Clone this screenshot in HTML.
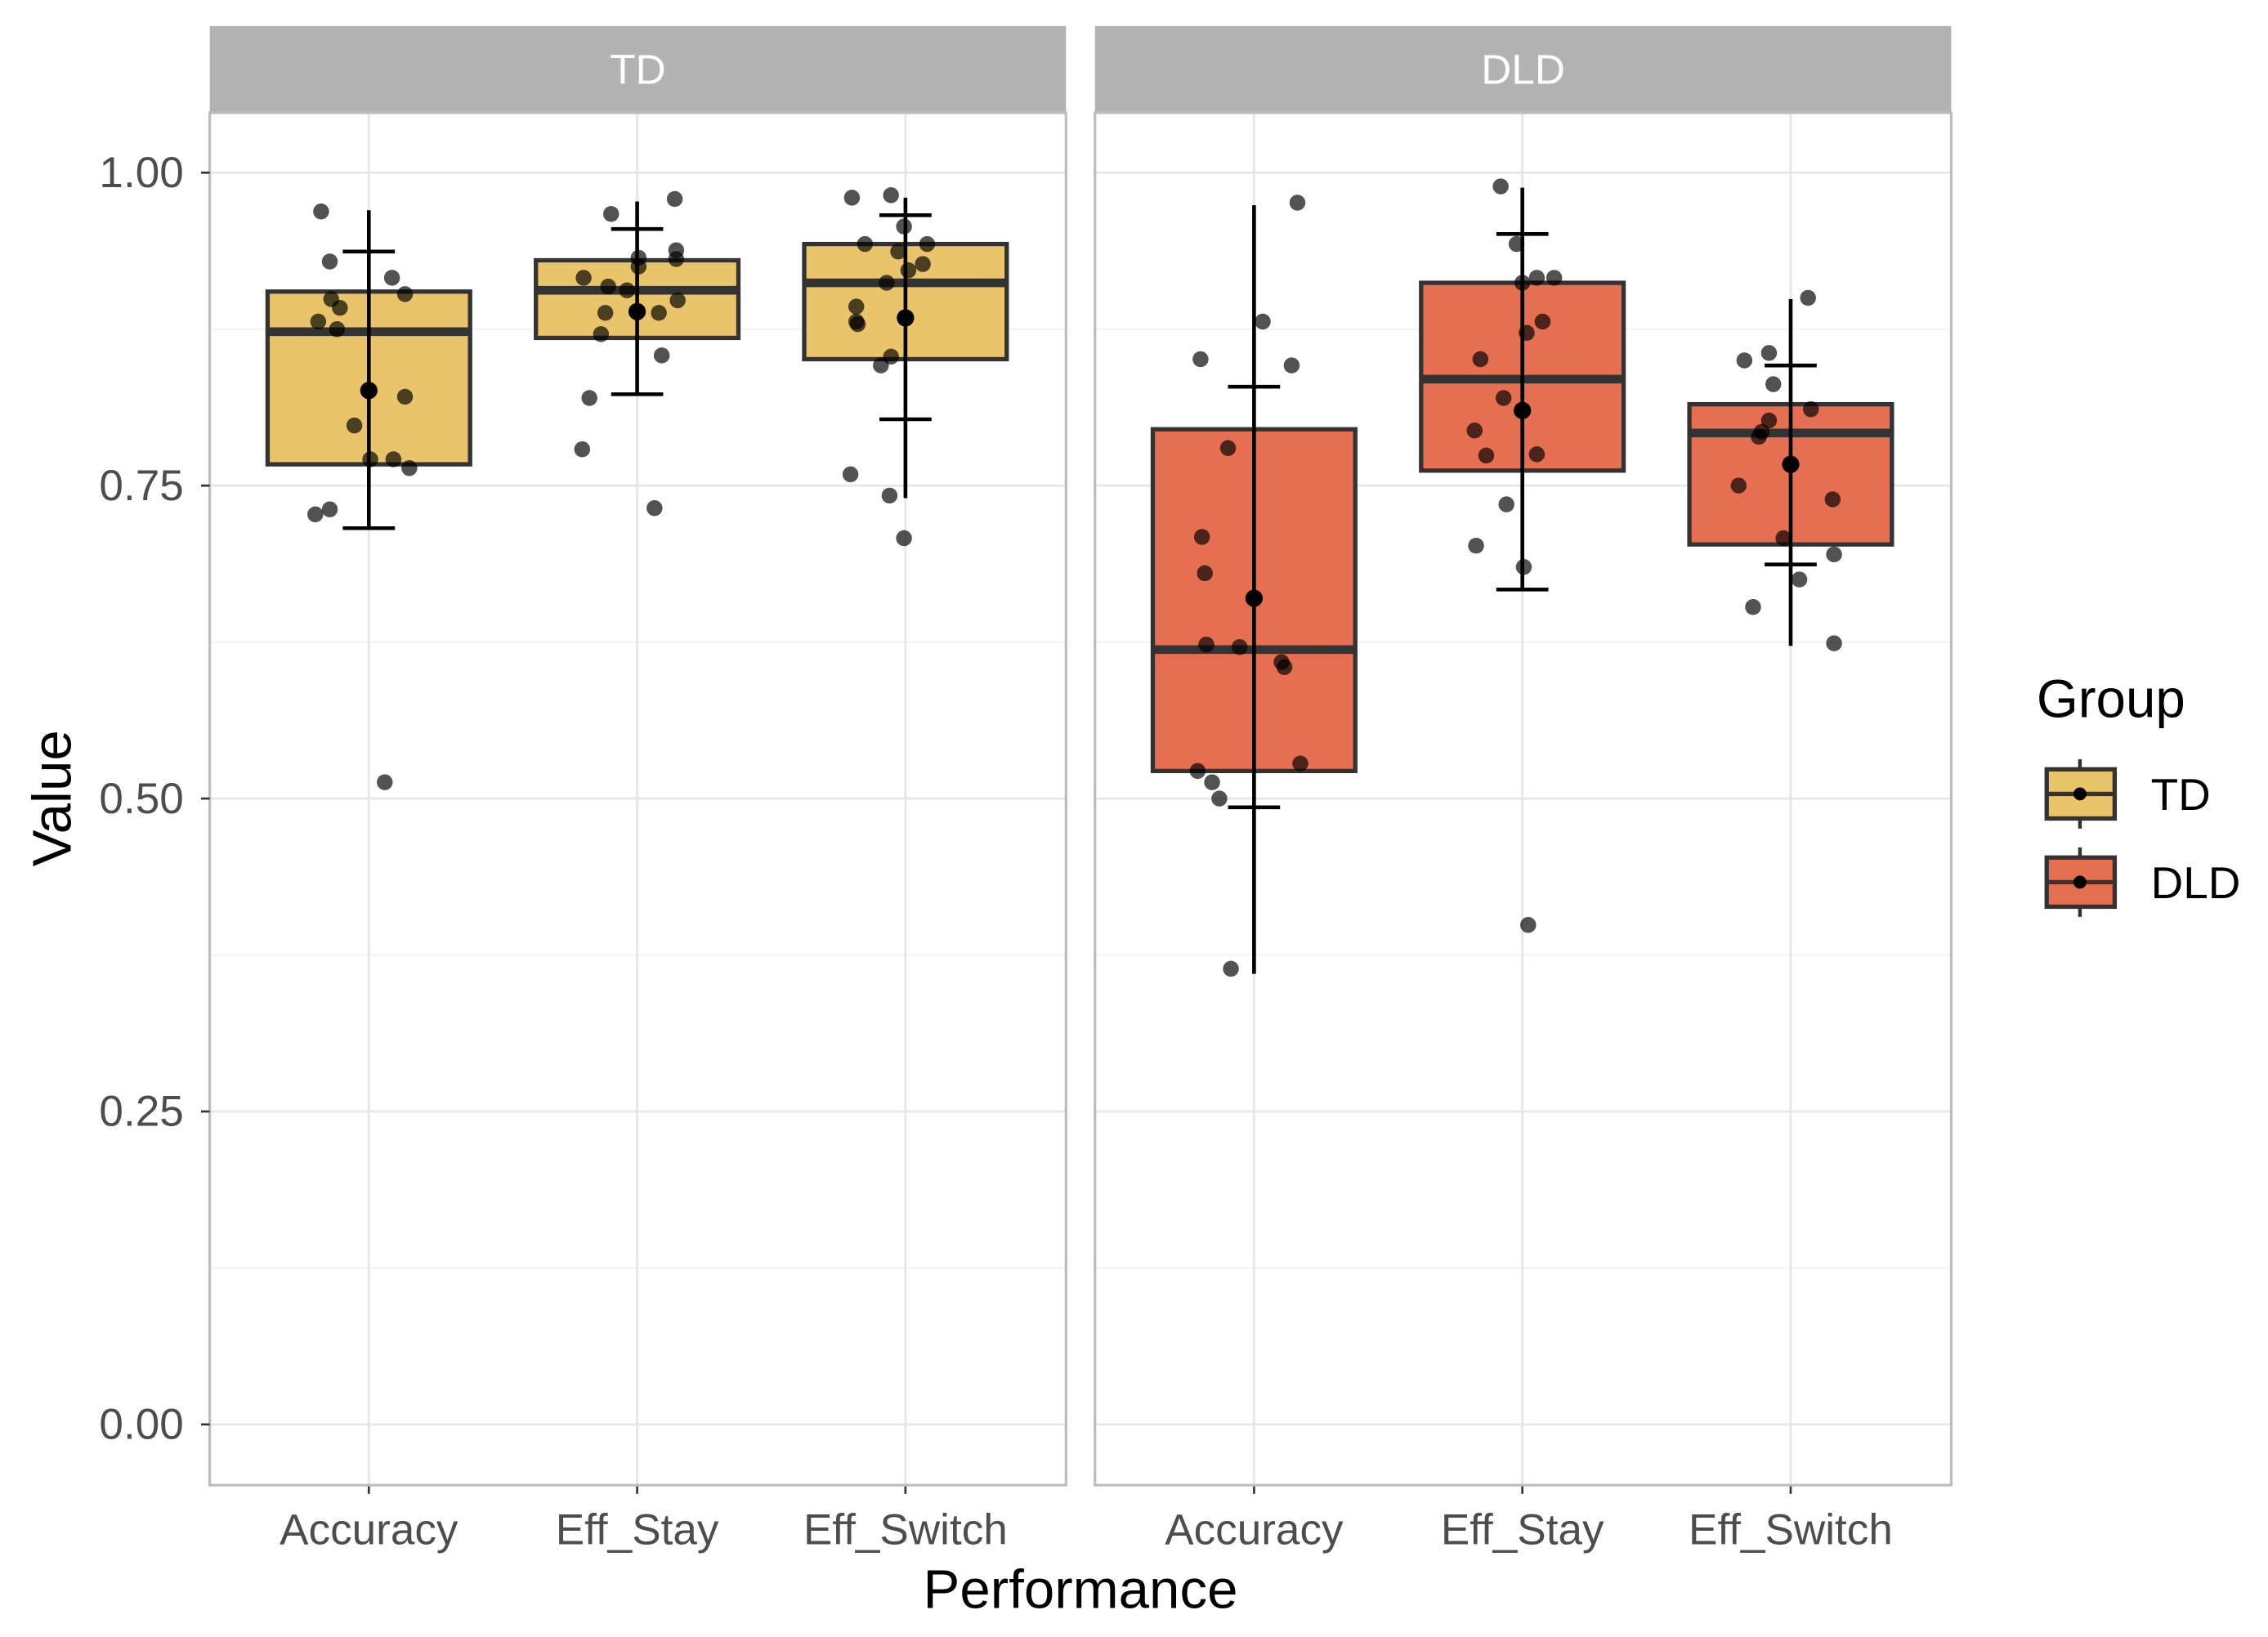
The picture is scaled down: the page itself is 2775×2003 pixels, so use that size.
<!DOCTYPE html>
<html><head><meta charset="utf-8"><style>html,body{margin:0;padding:0;background:#fff}svg{display:block}</style></head>
<body>
<svg id="chart" xmlns="http://www.w3.org/2000/svg" width="2775" height="2003" viewBox="0 0 1568 1132" preserveAspectRatio="none" font-family="Liberation Sans, sans-serif"></svg>
<script>
const groups = ["TD", "DLD"];
const categories = ["Accuracy", "Eff_Stay", "Eff_Switch"];
const yTicks = [0, 0.25, 0.5, 0.75, 1.0];
const yTickLabels = ["0.00", "0.25", "0.50", "0.75", "1.00"];
const fills = ["#e9c46a", "#e76f51"];
// box stats [group][category]
const q1 = [[0.767, 0.868, 0.851], [0.522, 0.762, 0.703]];
const med = [[0.873, 0.906, 0.912], [0.619, 0.835, 0.792]];
const q3 = [[0.905, 0.930, 0.943], [0.795, 0.912, 0.815]];
const lineLo = [[0.716, 0.823, 0.740], [0.360, 0.667, 0.622]];
const lineHi = [[0.970, 0.977, 0.980], [0.974, 0.988, 0.899]];
const meanV = [[0.826, 0.889, 0.884], [0.660, 0.810, 0.767]];
const capLo = [[0.716, 0.823, 0.803], [0.493, 0.667, 0.687]];
const capHi = [[0.937, 0.955, 0.966], [0.829, 0.951, 0.846]];
// points
const tdAccVals = [0.969,0.929,0.916,0.903,0.899,0.892,0.881,0.875,0.821,0.798,0.771,0.771,0.764,0.727,0.731,0.513];
const tdAccJit = [-33,-27,16,25,-26,-20,-35,-22,25,-10,1,17,28,-37,-27,11];
const tdStayVals = [0.967,0.979,0.938,0.931,0.932,0.925,0.916,0.909,0.906,0.888,0.888,0.898,0.871,0.854,0.820,0.779,0.732];
const tdStayJit = [-18,26,27,27,1,1,-37,-20,-7,-22,15,28,-25,17,-33,-38,12];
const tdSwVals = [0.980,0.982,0.957,0.943,0.943,0.937,0.927,0.922,0.912,0.893,0.881,0.879,0.853,0.846,0.759,0.742,0.708];
const tdSwJit = [-37,-10,-1,-28,15,-5,12,2,-13,-34,-34,-33,-10,-17,-38,-11,-1];
const dldAccVals = [0.976,0.881,0.851,0.846,0.780,0.709,0.680,0.623,0.621,0.609,0.605,0.528,0.522,0.513,0.500,0.364];
const dldAccJit = [30,6,-37,26,-18,-36,-34,-33,-10,19,21,32,-39,-29,-24,-16];
const dldStayVals = [0.989,0.943,0.912,0.916,0.916,0.881,0.872,0.851,0.820,0.794,0.774,0.775,0.735,0.702,0.685,0.399];
const dldStayJit = [-15,-4,0,10,22,14,3,-29,-13,-33,-25,10,-11,-32,1,4];
const dldSwVals = [0.900,0.850,0.856,0.831,0.811,0.802,0.793,0.789,0.750,0.739,0.708,0.695,0.675,0.653,0.624];
const dldSwJit = [12,-32,-15,-12,14,-15,-20,-22,-36,29,-5,30,6,-26,30];

const pointVals = [[tdAccVals, tdStayVals, tdSwVals], [dldAccVals, dldStayVals, dldSwVals]];
const pointJit = [[tdAccJit, tdStayJit, tdSwJit], [dldAccJit, dldStayJit, dldSwJit]];

const svg = document.getElementById('chart');
const NS = 'http://www.w3.org/2000/svg';
function mk(tag, attrs, parent) {
  const e = document.createElementNS(NS, tag);
  for (const k in attrs) e.setAttribute(k, attrs[k]);
  (parent || svg).appendChild(e);
  return e;
}
const panelX = [145, 757], panelW = 592, panelTop = 78, panelBot = 1027;
const y = v => 985 - 865.6 * v;
const x = (g, c) => panelX[g] + 110 + c * 185.5;
const boxHalf = 70;

for (let g = 0; g < 2; g++) {
  const px = panelX[g];
  const pg = mk('g', {});
  
  
  mk('rect', {x: px, y: panelTop, width: panelW, height: panelBot - panelTop, fill: '#fff'}, pg);
  for (let i = 0; i < yTicks.length - 1; i++) {
    const v = (yTicks[i] + yTicks[i + 1]) / 2;
    mk('line', {x1: px, x2: px + panelW, y1: y(v), y2: y(v), stroke: '#f2f2f2', 'stroke-width': 1}, pg);
  }
  for (let i = 0; i < yTicks.length; i++) {
    const gl = mk('line', {x1: px, x2: px + panelW, y1: y(yTicks[i]), y2: y(yTicks[i]), stroke: '#e6e6e6', 'stroke-width': 1.6}, pg);
    
    
  }
  for (let c = 0; c < categories.length; c++) {
    mk('line', {x1: x(g, c), x2: x(g, c), y1: panelTop, y2: panelBot, stroke: '#e6e6e6', 'stroke-width': 1.6}, pg);
  }
  const strip = mk('rect', {x: px, y: 18, width: panelW, height: 60, fill: '#b3b3b3'}, pg);
  
  
  const st = mk('text', {x: px + panelW / 2, y: 58, 'text-anchor': 'middle', 'font-size': 29, fill: '#fff'}, pg);
  st.textContent = groups[g];
  
  

  for (let c = 0; c < categories.length; c++) {
    const cx = x(g, c);
    const bg = mk('g', {}, pg);
    
    
    mk('rect', {x: cx - boxHalf, y: y(q3[g][c]), width: 2 * boxHalf, height: y(q1[g][c]) - y(q3[g][c]), fill: fills[g], stroke: '#333', 'stroke-width': 3}, bg);
    mk('line', {x1: cx - boxHalf, x2: cx + boxHalf, y1: y(med[g][c]), y2: y(med[g][c]), stroke: '#333', 'stroke-width': 6}, bg);
    const vals = pointVals[g][c], jit = pointJit[g][c];
    for (let i = 0; i < vals.length; i++) {
      const p = mk('circle', {cx: cx + jit[i], cy: y(vals[i]), r: 5.5, fill: 'rgba(0,0,0,0.68)'}, bg);
      
      
    }
    const eg = mk('g', {stroke: '#000', 'stroke-width': 2.6}, bg);
    
    
    mk('line', {x1: cx, x2: cx, y1: y(lineHi[g][c]), y2: y(lineLo[g][c])}, eg);
    mk('line', {x1: cx - 18, x2: cx + 18, y1: y(capHi[g][c]), y2: y(capHi[g][c])}, eg);
    mk('line', {x1: cx - 18, x2: cx + 18, y1: y(capLo[g][c]), y2: y(capLo[g][c])}, eg);
    const m = mk('circle', {cx: cx, cy: y(meanV[g][c]), r: 6, fill: '#000'}, bg);
    
    
    mk('line', {x1: cx, x2: cx, y1: panelBot, y2: panelBot + 6, stroke: '#333', 'stroke-width': 1.5}, pg);
    const xl = mk('text', {x: cx, y: 1068, 'text-anchor': 'middle', 'font-size': 30, fill: '#4d4d4d'}, pg);
    xl.textContent = categories[c];
    
    
  }
  mk('rect', {x: px, y: panelTop, width: panelW, height: panelBot - panelTop, fill: 'none', stroke: '#bdbdbd', 'stroke-width': 1.8}, pg);
}
for (let i = 0; i < yTicks.length; i++) {
  const t = mk('text', {x: 127, y: y(yTicks[i]) + 10, 'text-anchor': 'end', 'font-size': 30, fill: '#4d4d4d'});
  t.textContent = yTickLabels[i];
  
  
  mk('line', {x1: 139, x2: 145, y1: y(yTicks[i]), y2: y(yTicks[i]), stroke: '#333', 'stroke-width': 1.5});
}
const yt = mk('text', {x: 0, y: 0, transform: 'translate(49,552) rotate(-90)', 'text-anchor': 'middle', 'font-size': 38, fill: '#000'});
yt.textContent = 'Value';


const xt = mk('text', {x: 747, y: 1112, 'text-anchor': 'middle', 'font-size': 38, fill: '#000'});
xt.textContent = 'Performance';


const lg = mk('g', {});


const lt = mk('text', {x: 1408, y: 496, 'font-size': 37, fill: '#000'}, lg);
lt.textContent = 'Group';


for (let g = 0; g < 2; g++) {
  const ky = 549 + g * 61;
  const eg = mk('g', {}, lg);
  
  
  mk('line', {x1: 1438, x2: 1438, y1: ky - 24, y2: ky + 24, stroke: '#333', 'stroke-width': 2.5}, eg);
  mk('rect', {x: 1415, y: ky - 17, width: 47, height: 34, fill: fills[g], stroke: '#333', 'stroke-width': 3}, eg);
  mk('line', {x1: 1415, x2: 1462, y1: ky, y2: ky, stroke: '#333', 'stroke-width': 3}, eg);
  mk('circle', {cx: 1438, cy: ky, r: 4.5, fill: '#000'}, eg);
  const tx = mk('text', {x: 1487, y: ky + 11, 'font-size': 31, fill: '#000'}, eg);
  tx.textContent = groups[g];
}
</script>
</body></html>
